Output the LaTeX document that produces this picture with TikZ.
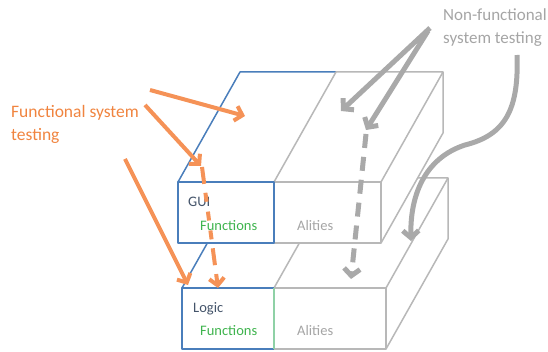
\documentclass[tikz,border=0pt]{standalone}
\usepackage{fontspec}
\setmainfont{Carlito}
\usetikzlibrary{arrows.meta}

\definecolor{boxblue}{HTML}{4A7EBB}
\definecolor{boxgrey}{HTML}{B8B8B8}
\definecolor{divgreen}{HTML}{8FD1A6}
\definecolor{fngreen}{HTML}{3FB44E}
\definecolor{labeldark}{HTML}{44546A}
\definecolor{alitgrey}{HTML}{A5A5A5}
\definecolor{funcorange}{HTML}{F0843F}
\definecolor{arrorange}{HTML}{F59257}
\definecolor{arrgrey}{HTML}{A9A9A9}

\begin{document}
\begin{tikzpicture}[x=1pt,y=-1pt,
  edge/.style={line width=1.5pt, line join=round},
  blueedge/.style={edge, draw=boxblue},
  greyedge/.style={edge, draw=boxgrey},
  boxtext/.style={font=\fontsize{14.5}{16}\selectfont, inner sep=0pt, anchor=base west},
  orangetext/.style={font=\fontsize{17.5}{22}\selectfont, text=funcorange, inner sep=0pt, anchor=base west},
  greytext/.style={font=\fontsize{17}{22}\selectfont, text=alitgrey, inner sep=0pt, anchor=base west},
  orangearrow/.style={draw=arrorange, line width=4pt, -{Straight Barb[length=7pt,width=15pt]}},
  greyarrow/.style={draw=arrgrey, line width=5pt, -{Straight Barb[length=7pt,width=16pt]}},
]
\useasboundingbox (0,0) rectangle (548,352);

% ---- lower layer: Logic | Alities ----
\fill[white] (182,288) -- (244,178) -- (448,178) -- (448,239) -- (386,349) -- (182,349) -- cycle;
\draw[blueedge] (182,288) -- (244,178) -- (336,178);
\draw[greyedge] (274,288) -- (336,178) -- (448,178) -- (386,288);
\draw[greyedge] (448,178) -- (448,239) -- (386,349);
\draw[greyedge] (274,288) rectangle (386,349);
\draw[blueedge] (274,288) -- (182,288) -- (182,349) -- (274,349);
\draw[edge, draw=divgreen] (274,288) -- (274,349);

% ---- upper layer: GUI | Alities ----
\fill[white] (178,182) -- (240,72) -- (443,72) -- (443,133) -- (381,243) -- (178,243) -- cycle;
\draw[blueedge] (178,182) -- (240,72) -- (336,72);
\draw[greyedge] (274,182) -- (336,72) -- (443,72) -- (381,182);
\draw[greyedge] (443,72) -- (443,133) -- (381,243);
\draw[greyedge] (274,182) rectangle (381,243);
\draw[blueedge] (178,182) rectangle (274,243);

% ---- face labels ----
\node[boxtext, text=labeldark] (gui) at (188,207) {GUI};
\node[boxtext, text=fngreen] (guifn) at (200,231) {Functions};
\node[boxtext, text=alitgrey] (guial) at (297,231) {Alities};
\node[boxtext, text=labeldark] (logic) at (193,312) {Logic};
\node[boxtext, text=fngreen] (logfn) at (200,335) {Functions};
\node[boxtext, text=alitgrey] (logal) at (297,335) {Alities};

% ---- callout texts ----
\node[orangetext] (fst1) at (11,118) {Functional system};
\node[orangetext] (fst2) at (11,141) {testing};
\node[greytext] (nft1) at (443,21) {Non-functional};
\node[greytext] (nft2) at (443,44) {system testing};

% ---- arrow end points ----
\coordinate (oa1s) at (150,90);   \coordinate (oa1e) at (245,116);
\coordinate (oa2s) at (145,105);  \coordinate (oa2e) at (201,166);
\coordinate (oa3s) at (125,159);  \coordinate (oa3e) at (188,285);
\coordinate (oa4s) at (202,167);  \coordinate (oa4e) at (218,288);
\coordinate (ga1s) at (430,28);   \coordinate (ga1e) at (341,111);
\coordinate (ga2s) at (428,31);   \coordinate (ga2e) at (366,130);
\coordinate (ga3s) at (366,134);  \coordinate (ga3e) at (351,279);
\coordinate (ga4s) at (517,55);   \coordinate (ga4e) at (411,241);

% ---- functional testing arrows ----
\draw[orangearrow] (oa1s) -- (oa1e);
\draw[orangearrow] (oa2s) -- (oa2e);
\draw[orangearrow] (oa3s) -- (oa3e);
\draw[orangearrow, dash pattern=on 17pt off 9pt on 9pt off 10pt on 9pt off 10pt on 9pt off 9pt] (oa4s) -- (oa4e);

% ---- non-functional testing arrows ----
\draw[greyarrow] (ga1s) -- (ga1e);
\draw[greyarrow] (ga2s) -- (ga2e);
\draw[greyarrow, dash pattern=on 14pt off 9pt] (ga3s) -- (ga3e);
\draw[greyarrow] (ga4s) .. controls (519,110) and (505,135) .. (465,145)
                        .. controls (425,158) and (410,195) .. (ga4e);
\end{tikzpicture}
\end{document}
